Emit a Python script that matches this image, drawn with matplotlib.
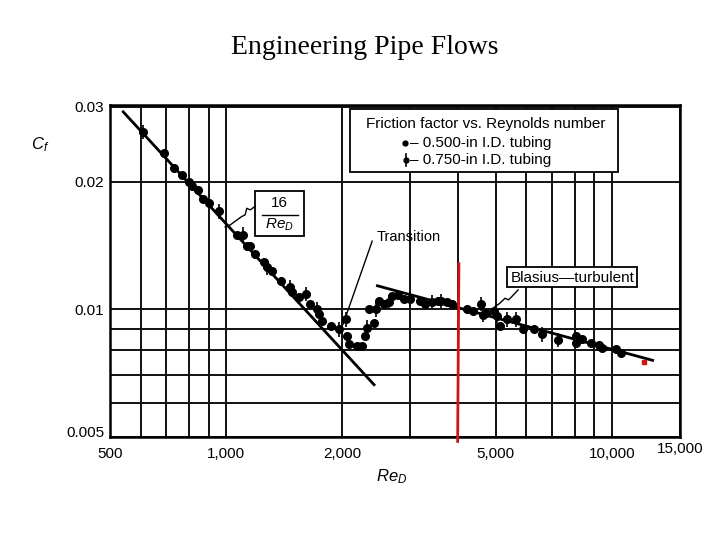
import matplotlib
matplotlib.use('Agg')
import matplotlib.pyplot as plt
import matplotlib.transforms as mtransforms
from matplotlib.patches import Rectangle
from matplotlib.ticker import NullLocator
import numpy as np

plt.rcParams['font.family'] = 'Liberation Sans'
plt.rcParams['mathtext.fontset'] = 'custom'
plt.rcParams['mathtext.it'] = 'Liberation Sans:italic'
plt.rcParams['mathtext.rm'] = 'Liberation Sans'

# 0.500-in I.D. tubing (plain dots)
small_re = [692, 734, 768, 799, 815, 845, 870, 904, 1067, 1132, 1150, 1185, 1252, 1314,
            1383, 1480, 1540, 1654, 1736, 1774, 1866, 2060, 2080, 2184, 2250, 2284,
            2344, 2417, 2484, 2560, 2693, 2780, 2890, 3185, 3280, 3530, 3740, 3850,
            4213, 4370, 4700, 4950, 5120, 5880, 6280, 8060, 8060, 8380, 8820, 9250,
            9430, 10230, 10540]
small_cf = [0.0233, 0.0215, 0.0207, 0.0199, 0.0195, 0.0191, 0.0182, 0.0178, 0.0150, 0.0141,
            0.0141, 0.0135, 0.0129, 0.0123, 0.01167, 0.0110, 0.01066, 0.0103, 0.00973,
            0.00938, 0.00913, 0.00864, 0.00826, 0.00818, 0.00818, 0.00864,
            0.0100, 0.0093, 0.01046, 0.0103, 0.01075, 0.0108, 0.01056, 0.01046, 0.0103,
            0.01046, 0.0104, 0.0103, 0.0100, 0.0099, 0.0098, 0.0099, 0.00913, 0.00897,
            0.00897, 0.00864, 0.00834, 0.0085, 0.00834, 0.00822, 0.0081, 0.00804, 0.0079]

# 0.750-in I.D. tubing (dots with bars)
large_re = [610, 960, 1103, 1276, 1466, 1606, 1716, 1961, 2041, 2321,
            2440, 2650, 3000, 3425, 3598, 4568, 4640, 5040, 5340, 5634, 6600, 7256]
large_cf = [0.0262, 0.0170, 0.0150, 0.01255, 0.01126, 0.01085, 0.0100, 0.00897, 0.00947, 0.00905,
            0.0100, 0.0104, 0.01056, 0.0104, 0.01046, 0.0103, 0.0097, 0.00964, 0.00947,
            0.00947, 0.00873, 0.00846]

# laminar 16/Re and Blasius lines (end points)
lam_re = [541, 2417]
lam_cf = [0.0292, 0.00664]
bla_re = [2466, 12740]
bla_cf = [0.01136, 0.00758]

# red hand marks
red_re = [4010, 3995, 3980]
red_cf = [0.0128, 0.0080, 0.00488]
dot_re = [12075]
dot_cf = [0.00753]

x_grid = [500, 600, 700, 800, 900, 1000, 2000, 3000, 4000, 5000, 6000, 7000, 8000, 9000, 10000, 15000]
x_labels = ['500', '', '', '', '', '1,000', '2,000', '', '', '5,000', '', '', '', '', '10,000', '15,000']
y_grid = [0.005, 0.006, 0.007, 0.008, 0.009, 0.01, 0.02, 0.03]
y_labels = ['0.005', '', '', '', '', '0.01', '0.02', '0.03']

fig = plt.figure(figsize=(7.2, 5.4), dpi=100)
ax = fig.add_axes([110/720, 1-437/540, 570/720, 332/540])
ax.set_xscale('log')
ax.set_yscale('log')
ax.set_xlim(500, 15000)
ax.set_ylim(0.005, 0.0303)
ax.set_xticks(x_grid, x_labels)
ax.set_yticks(y_grid, y_labels)
ax.xaxis.set_minor_locator(NullLocator())
ax.yaxis.set_minor_locator(NullLocator())
ax.tick_params(length=0, labelsize=11)
ax.tick_params(axis='x', pad=7)
ax.tick_params(axis='y', pad=4)
ax.grid(True, color='#111111', linewidth=1.4)
for s in ax.spines.values():
    s.set_linewidth(1.8)

# 15,000 and 0.005 sit a bit higher in the original
up = mtransforms.ScaledTranslation(0, 0.05, fig.dpi_scale_trans)
for lab in [ax.get_xticklabels()[-1], ax.get_yticklabels()[0]]:
    lab.set_transform(lab.get_transform() + up)

ax.plot(lam_re, lam_cf, color='black', linewidth=2, zorder=3)
ax.plot(bla_re, bla_cf, color='black', linewidth=2, zorder=3)
ax.plot(small_re, small_cf, 'o', color='black', markersize=5.5, zorder=4)
bar = 1.04
lcf = np.array(large_cf)
ax.errorbar(large_re, lcf, yerr=[lcf - lcf / bar, lcf * bar - lcf], fmt='o', color='black',
            markersize=5.5, elinewidth=1.2, capsize=0, zorder=4)

ax.plot(red_re, red_cf, color='#d01515', linewidth=2, clip_on=False, zorder=6)
ax.plot(dot_re, dot_cf, 's', color='#d01515', markersize=3, zorder=6)

# legend box
ax.add_patch(Rectangle((0.421, 0.798), 0.470, 0.190, transform=ax.transAxes,
                       facecolor='white', edgecolor='black', linewidth=1.3, zorder=7))
ax.text(0.660, 0.943, 'Friction factor vs. Reynolds number', transform=ax.transAxes,
        ha='center', va='center', fontsize=11, zorder=8)
ax.plot([0.518], [0.886], 'o', color='black', markersize=3.5, transform=ax.transAxes, zorder=8)
ax.plot([0.520, 0.520], [0.815, 0.853], color='black', linewidth=1.2, transform=ax.transAxes, zorder=8)
ax.plot([0.520], [0.834], 'o', color='black', markersize=3.5, transform=ax.transAxes, zorder=8)
ax.text(0.526, 0.886, '– 0.500-in I.D. tubing', transform=ax.transAxes,
        ha='left', va='center', fontsize=11, zorder=8)
ax.text(0.526, 0.834, '– 0.750-in I.D. tubing', transform=ax.transAxes,
        ha='left', va='center', fontsize=11, zorder=8)

# 16/Re_D box
ax.add_patch(Rectangle((0.254, 0.605), 0.086, 0.136, transform=ax.transAxes,
                       facecolor='white', edgecolor='black', linewidth=1.3, zorder=7))
ax.text(0.298, 0.705, '16', transform=ax.transAxes, ha='center', va='center', fontsize=11, zorder=8)
ax.plot([0.266, 0.330], [0.668, 0.668], color='black', linewidth=1, transform=ax.transAxes, zorder=8)
ax.text(0.297, 0.638, '$Re_D$', transform=ax.transAxes, ha='center', va='center', fontsize=11, zorder=8)
ax.plot([0.254, 0.246, 0.240, 0.237, 0.231, 0.211, 0.202],
        [0.694, 0.684, 0.689, 0.669, 0.664, 0.639, 0.633],
        color='black', linewidth=1, transform=ax.transAxes, zorder=8)

# Transition label
ax.text(0.467, 0.602, 'Transition', transform=ax.transAxes, ha='left', va='center', fontsize=10.5, zorder=8)
ax.plot([0.460, 0.409], [0.590, 0.340], color='black', linewidth=1, transform=ax.transAxes, zorder=8)

# Blasius box
ax.add_patch(Rectangle((0.696, 0.452), 0.229, 0.060, transform=ax.transAxes,
                       facecolor='white', edgecolor='black', linewidth=1.3, zorder=7))
ax.text(0.811, 0.479, 'Blasius—turbulent', transform=ax.transAxes,
        ha='center', va='center', fontsize=11, zorder=8)
ax.plot([0.716, 0.705, 0.699, 0.693, 0.684, 0.675],
        [0.443, 0.423, 0.413, 0.418, 0.403, 0.392],
        color='black', linewidth=1, transform=ax.transAxes, zorder=8)

fig.text(40/720, 1-145/540, '$C_f$', ha='center', va='center', fontsize=12)
fig.text(392/720, 1-477/540, '$Re_D$', ha='center', va='center', fontsize=12)
fig.text(365/720, 1-47/540, 'Engineering Pipe Flows', ha='center', va='center',
         fontsize=20, family='Liberation Serif')

fig.savefig('out.png', dpi=100)
